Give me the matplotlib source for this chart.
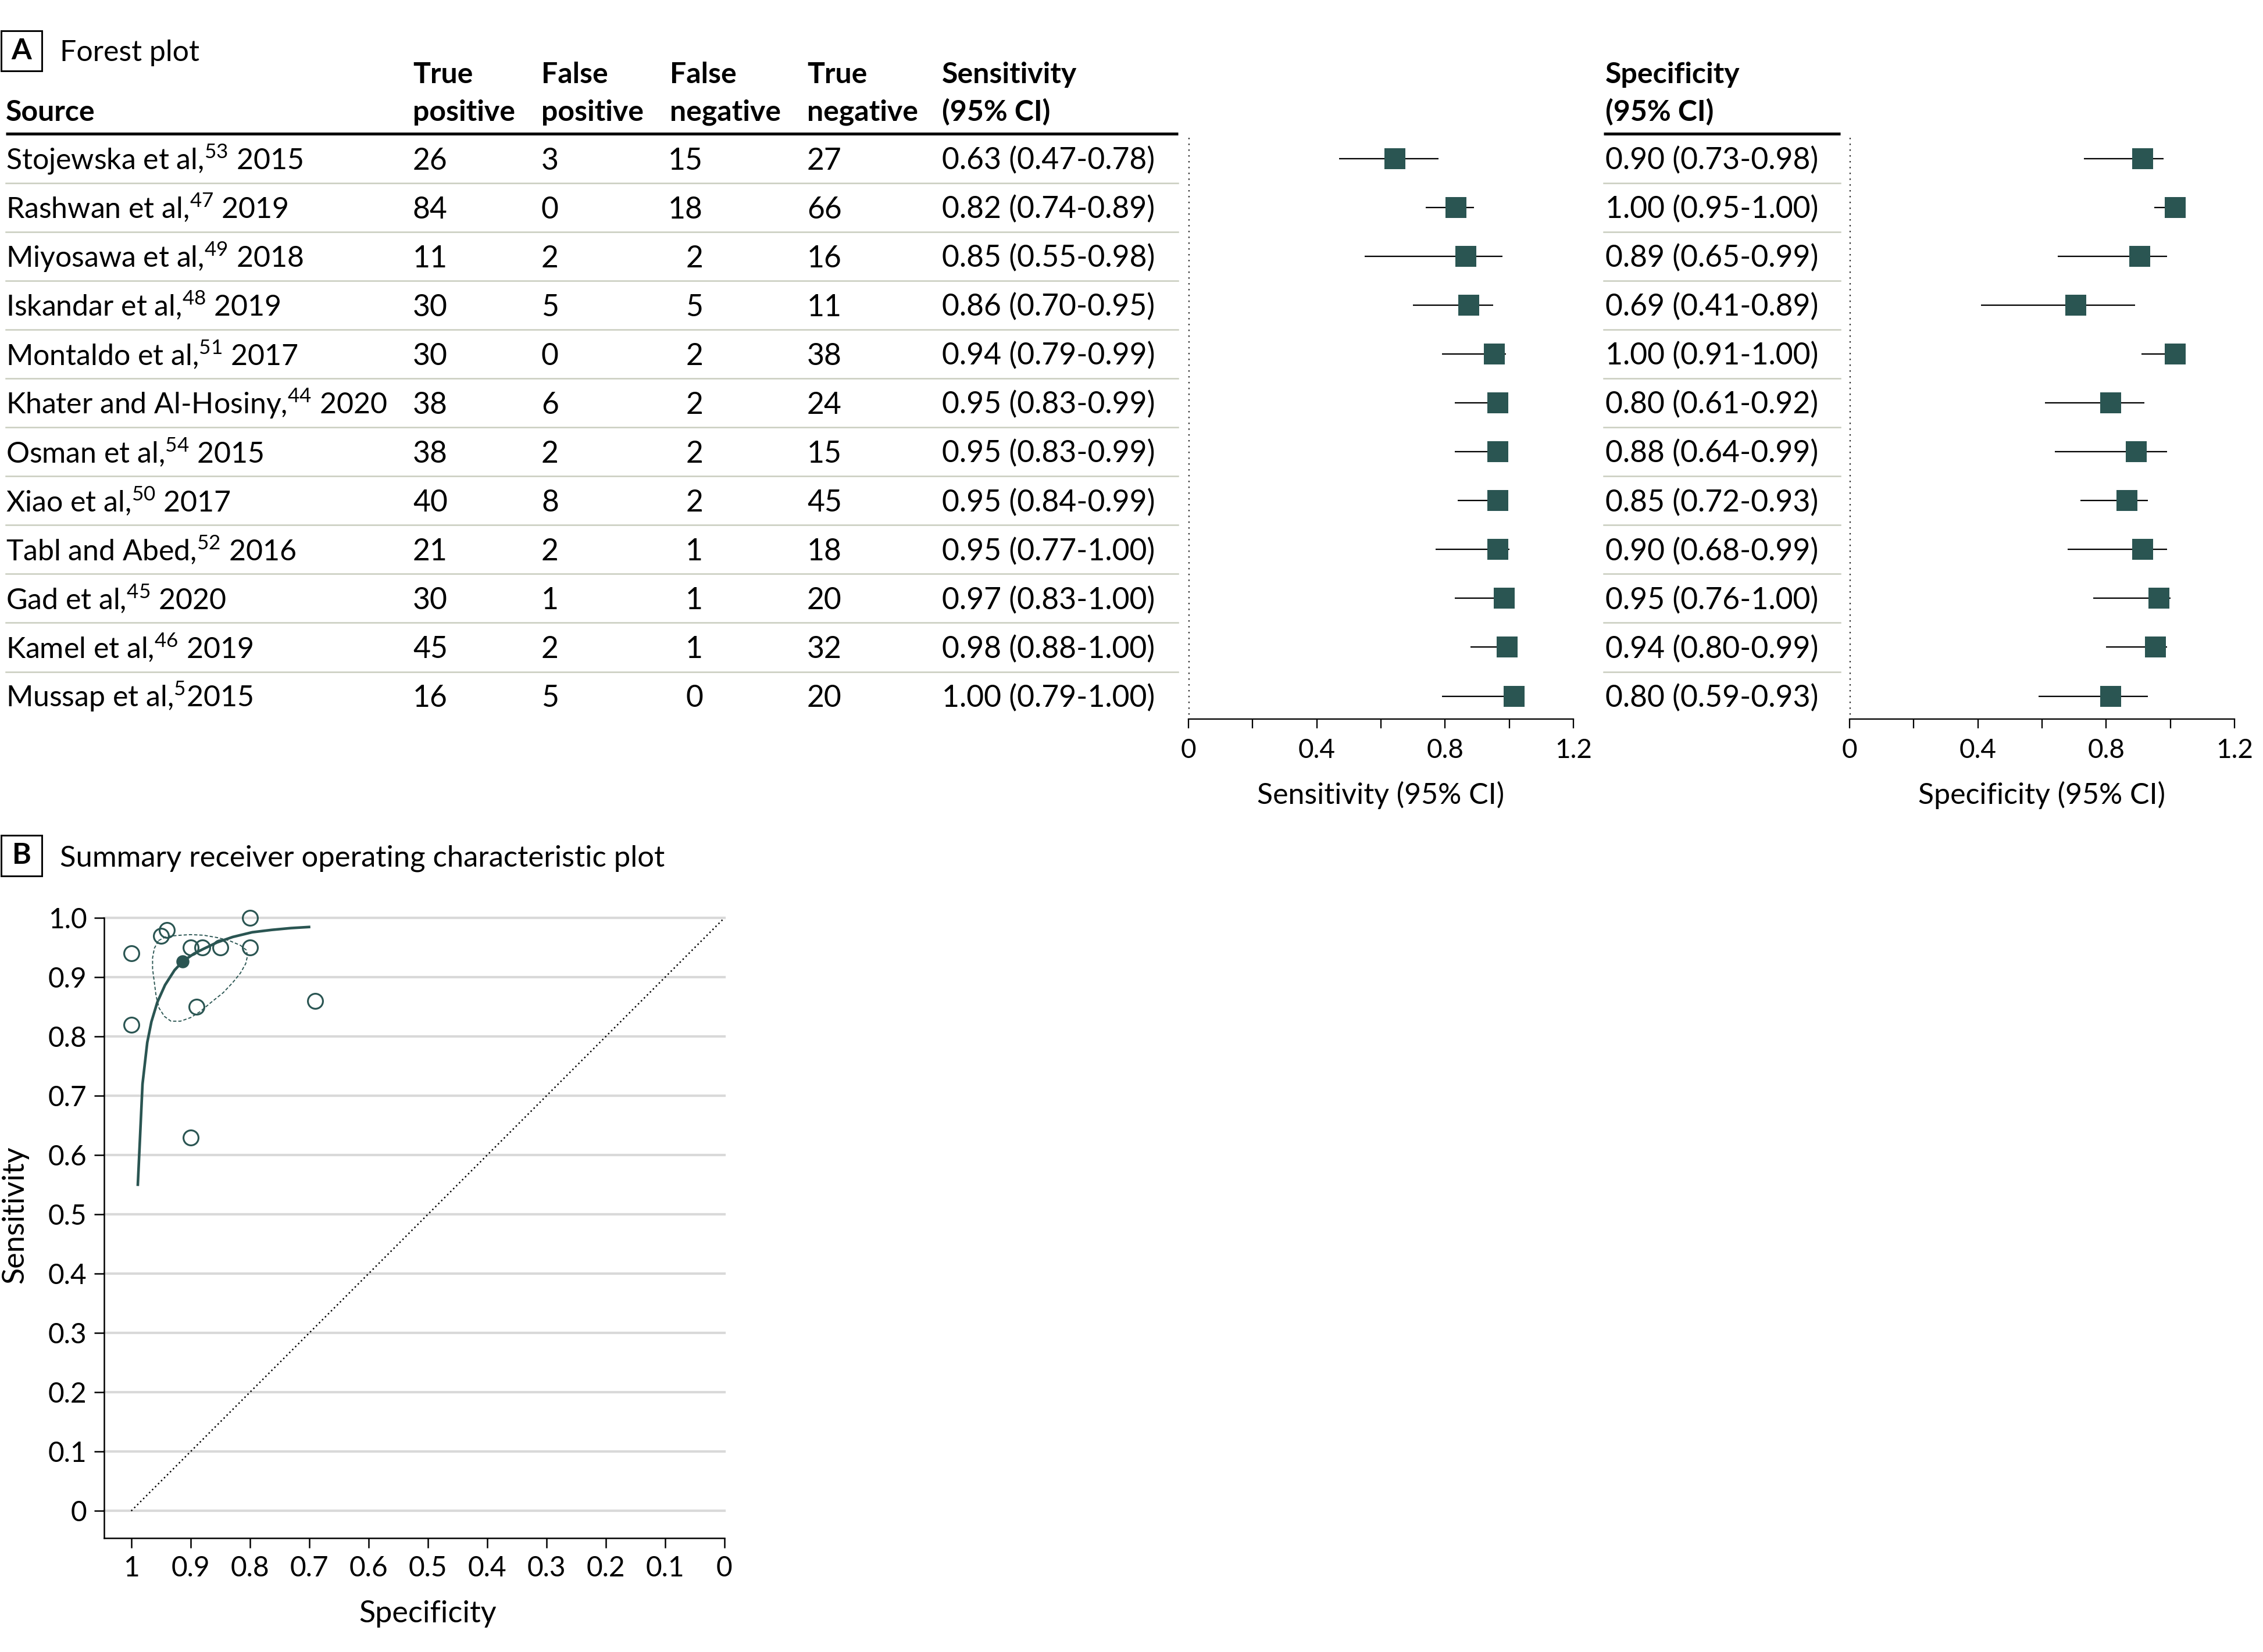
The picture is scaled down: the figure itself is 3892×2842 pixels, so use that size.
import matplotlib
matplotlib.use('Agg')
import matplotlib.pyplot as plt
from matplotlib.transforms import ScaledTranslation
from matplotlib.patches import Rectangle

# ---------------- data ----------------
sources = [
    "Stojewska et al,$^{\\mathregular{53}}$ 2015",
    "Rashwan et al,$^{\\mathregular{47}}$ 2019",
    "Miyosawa et al,$^{\\mathregular{49}}$ 2018",
    "Iskandar et al,$^{\\mathregular{48}}$ 2019",
    "Montaldo et al,$^{\\mathregular{51}}$ 2017",
    "Khater and Al-Hosiny,$^{\\mathregular{44}}$ 2020",
    "Osman et al,$^{\\mathregular{54}}$ 2015",
    "Xiao et al,$^{\\mathregular{50}}$ 2017",
    "Tabl and Abed,$^{\\mathregular{52}}$ 2016",
    "Gad et al,$^{\\mathregular{45}}$ 2020",
    "Kamel et al,$^{\\mathregular{46}}$ 2019",
    "Mussap et al,$^{\\mathregular{5}}$2015",
]
true_pos = [26, 84, 11, 30, 30, 38, 38, 40, 21, 30, 45, 16]
false_pos = [3, 0, 2, 5, 0, 6, 2, 8, 2, 1, 2, 5]
false_neg = [15, 18, 2, 5, 2, 2, 2, 2, 1, 1, 1, 0]
true_neg = [27, 66, 16, 11, 38, 24, 15, 45, 18, 20, 32, 20]
sens = [0.63, 0.82, 0.85, 0.86, 0.94, 0.95, 0.95, 0.95, 0.95, 0.97, 0.98, 1.00]
sens_lo = [0.47, 0.74, 0.55, 0.70, 0.79, 0.83, 0.83, 0.84, 0.77, 0.83, 0.88, 0.79]
sens_hi = [0.78, 0.89, 0.98, 0.95, 0.99, 0.99, 0.99, 0.99, 1.00, 1.00, 1.00, 1.00]
spec = [0.90, 1.00, 0.89, 0.69, 1.00, 0.80, 0.88, 0.85, 0.90, 0.95, 0.94, 0.80]
spec_lo = [0.73, 0.95, 0.65, 0.41, 0.91, 0.61, 0.64, 0.72, 0.68, 0.76, 0.80, 0.59]
spec_hi = [0.98, 1.00, 0.99, 0.89, 1.00, 0.92, 0.99, 0.93, 0.99, 1.00, 0.99, 0.93]

forest_ticks = [0, 0.2, 0.4, 0.6, 0.8, 1.0, 1.2]
forest_ticklabels = ["0", "", "0.4", "", "0.8", "", "1.2"]

# SROC curve
sroc_spec = [0.989, 0.981, 0.973, 0.966, 0.956, 0.943, 0.927, 0.913, 0.894,
             0.878, 0.855, 0.829, 0.796, 0.763, 0.731, 0.698]
sroc_sens = [0.548, 0.720, 0.790, 0.825, 0.858, 0.887, 0.912, 0.927, 0.940,
             0.948, 0.959, 0.968, 0.976, 0.980, 0.983, 0.985]
summary_spec = [0.913]
summary_sens = [0.927]
# 95% confidence region (dashed contour)
region_spec = [0.954, 0.940, 0.917, 0.900, 0.878, 0.855, 0.835, 0.816, 0.806,
               0.804, 0.807, 0.816, 0.829, 0.845, 0.865, 0.884, 0.900, 0.917,
               0.933, 0.944, 0.953, 0.958, 0.961, 0.964, 0.964, 0.961, 0.954]
region_sens = [0.962, 0.969, 0.971, 0.972, 0.971, 0.967, 0.962, 0.954, 0.946,
               0.936, 0.923, 0.907, 0.891, 0.874, 0.858, 0.842, 0.832, 0.826,
               0.826, 0.834, 0.848, 0.868, 0.891, 0.914, 0.933, 0.949, 0.962]
chance_spec = [1.0, 0.0]
chance_sens = [0.0, 1.0]
sroc_xticks = [1, 0.9, 0.8, 0.7, 0.6, 0.5, 0.4, 0.3, 0.2, 0.1, 0]
sroc_xticklabels = ["1", "0.9", "0.8", "0.7", "0.6", "0.5", "0.4", "0.3", "0.2", "0.1", "0"]
sroc_yticks = [0, 0.1, 0.2, 0.3, 0.4, 0.5, 0.6, 0.7, 0.8, 0.9, 1.0]
sroc_yticklabels = ["0", "0.1", "0.2", "0.3", "0.4", "0.5", "0.6", "0.7", "0.8", "0.9", "1.0"]

# ---------------- style ----------------
W, H = 3892, 2842
DPI = 300
TEAL = '#2a5552'
SEP = '#c9cdbf'
plt.rcParams['font.family'] = ['Lato', 'DejaVu Sans']
FS = 12
FS_NUM = 12.4

fig = plt.figure(figsize=(W / DPI, H / DPI), dpi=DPI)
fig.patch.set_facecolor('white')


def fbox(x0, y0, x1, y1):
    """pixel box (top-left origin) -> figure fraction rect"""
    return [x0 / W, 1 - y1 / H, (x1 - x0) / W, (y1 - y0) / H]


# ---------- table layer (pixel coordinates) ----------
axt = fig.add_axes([0, 0, 1, 1])
axt.set_xlim(0, W)
axt.set_ylim(H, 0)
axt.axis('off')

# panel A label
axt.add_patch(Rectangle((2, 53), 70, 69, fill=False, ec='black', lw=0.7))
axt.text(37, 88, "A", ha='center', va='center', fontsize=FS, fontweight='bold')
axt.text(103, 105, "Forest plot", ha='left', va='baseline', fontsize=FS)

cols = dict(src=10, tp=710, fp=931, fn=1152, fn_r=1209, tn=1388, se=1620, sp=2761)
h1, h2 = 143, 208
hdr = dict(fontsize=FS, fontweight='bold', va='baseline', ha='left')
axt.text(cols['src'], h2, "Source", **hdr)
axt.text(cols['tp'], h1, "True", **hdr)
axt.text(cols['tp'], h2, "positive", **hdr)
axt.text(cols['fp'], h1, "False", **hdr)
axt.text(cols['fp'], h2, "positive", **hdr)
axt.text(cols['fn'], h1, "False", **hdr)
axt.text(cols['fn'], h2, "negative", **hdr)
axt.text(cols['tn'], h1, "True", **hdr)
axt.text(cols['tn'], h2, "negative", **hdr)
axt.text(cols['se'], h1, "Sensitivity", **hdr)
axt.text(cols['se'], h2, "(95% CI)", **hdr)
axt.text(cols['sp'], h1, "Specificity", **hdr)
axt.text(cols['sp'], h2, "(95% CI)", **hdr)

axt.plot([10, 2026], [230, 230], color='black', lw=1.2, solid_capstyle='butt')
axt.plot([2758, 3165], [230, 230], color='black', lw=1.2, solid_capstyle='butt')

row0 = 273.0
dy = 84.05
for i in range(len(sources)):
    yb = row0 + i * dy + 18.5
    kw = dict(fontsize=FS, va='baseline')
    kn = dict(fontsize=FS_NUM, va='baseline')
    axt.text(cols['src'], yb, sources[i], ha='left', **kw)
    axt.text(cols['tp'], yb, str(true_pos[i]), ha='left', **kn)
    axt.text(cols['fp'], yb, str(false_pos[i]), ha='left', **kn)
    axt.text(cols['fn_r'], yb, str(false_neg[i]), ha='right', **kn)
    axt.text(cols['tn'], yb, str(true_neg[i]), ha='left', **kn)
    axt.text(cols['se'], yb, f"{sens[i]:.2f} ({sens_lo[i]:.2f}-{sens_hi[i]:.2f})", ha='left', **kn)
    axt.text(cols['sp'], yb, f"{spec[i]:.2f} ({spec_lo[i]:.2f}-{spec_hi[i]:.2f})", ha='left', **kn)
    if i < len(sources) - 1:
        ys = row0 + i * dy + dy / 2
        axt.plot([10, 2026], [ys, ys], color=SEP, lw=0.6)
        axt.plot([2758, 3165], [ys, ys], color=SEP, lw=0.6)

# panel B label
axt.add_patch(Rectangle((2, 1437), 70, 70, fill=False, ec='black', lw=0.7))
axt.text(37, 1472, "B", ha='center', va='center', fontsize=FS, fontweight='bold')
axt.text(103, 1491, "Summary receiver operating characteristic plot",
         ha='left', va='baseline', fontsize=12.2)


# ---------- forest plots ----------
def forest(rect, est, lo, hi, xlabel):
    ax = fig.add_axes(rect)
    n = len(est)
    rows = list(range(n))
    ax.set_xlim(0, 1.2)
    ax.set_ylim(n - 1 + 0.473, -0.512)
    for s in ('left', 'top', 'right'):
        ax.spines[s].set_visible(False)
    ax.spines['bottom'].set_linewidth(0.55)
    ax.set_yticks([])
    ax.set_xticks(forest_ticks)
    ax.set_xticklabels(forest_ticklabels, fontsize=11)
    ax.tick_params(axis='x', length=3.9, width=0.55, pad=4.0, direction='out')
    ax.set_xlabel(xlabel, fontsize=12, labelpad=7.5)
    ax.axvline(0, color='black', lw=0.6, ls=(0, (1, 3)), ymin=0.008, ymax=0.998)
    ax.hlines(rows, lo, hi, color='black', lw=0.55, zorder=2)
    off = ax.transData + ScaledTranslation(8 / DPI, 0, fig.dpi_scale_trans)
    ax.plot(est, rows, ls='none', marker='s', ms=8.6, mfc=TEAL, mec=TEAL, mew=0,
            transform=off, zorder=3, clip_on=False)
    ax.patch.set_alpha(0)
    return ax


forest(fbox(2044, 230, 2705.8, 1237.3), sens, sens_lo, sens_hi, "Sensitivity (95% CI)")
forest(fbox(3181, 230, 3842.8, 1237.3), spec, spec_lo, spec_hi, "Specificity (95% CI)")

# ---------- SROC ----------
XL = (1.0455, 0)
YL = (-0.0455, 1.0)
ax = fig.add_axes(fbox(179.3, 1579.3, 1245.7, 2645.7))
ax.set_xlim(*XL)
ax.set_ylim(*YL)
for s in ('top', 'right'):
    ax.spines[s].set_visible(False)
for s in ('left', 'bottom'):
    ax.spines[s].set_linewidth(0.6)
ax.set_xticks(sroc_xticks)
ax.set_xticklabels(sroc_xticklabels, fontsize=11.5)
ax.set_yticks(sroc_yticks)
ax.set_yticklabels(sroc_yticklabels, fontsize=11.5)
ax.tick_params(length=4, width=0.6, pad=3.2)
for yv in sroc_yticks:
    ax.axhline(yv, color='#d9d9d9', lw=1.0, zorder=0, clip_on=False)
ax.set_xlabel("Specificity", fontsize=12.5, labelpad=8)
ax.set_ylabel("Sensitivity", fontsize=12.5, labelpad=8)
# centre the axis titles on the 0-1 data range (x/y only; the other coordinate stays automatic)
ax.xaxis.label.set_x((XL[0] - 0.5) / (XL[0] - XL[1]))
ax.yaxis.label.set_y((0.5 - YL[0]) / (YL[1] - YL[0]))

ax.plot(chance_spec, chance_sens, color='black', lw=0.6, ls=(0, (1, 1.9)), zorder=1)
ax.plot(region_spec, region_sens, color=TEAL, lw=0.45, ls=(0, (3, 1.8)), zorder=2)
ax.plot(sroc_spec, sroc_sens, color=TEAL, lw=1.1, zorder=3, solid_capstyle='butt')
ax.plot(spec, sens, ls='none', marker='o', ms=6.2, mfc='none', mec=TEAL, mew=0.75,
        zorder=4, clip_on=False)
ax.plot(summary_spec, summary_sens, ls='none', marker='o', ms=5.4, mfc=TEAL, mec=TEAL,
        mew=0, zorder=5)
ax.patch.set_alpha(0)

fig.savefig('out.png', dpi=DPI)
